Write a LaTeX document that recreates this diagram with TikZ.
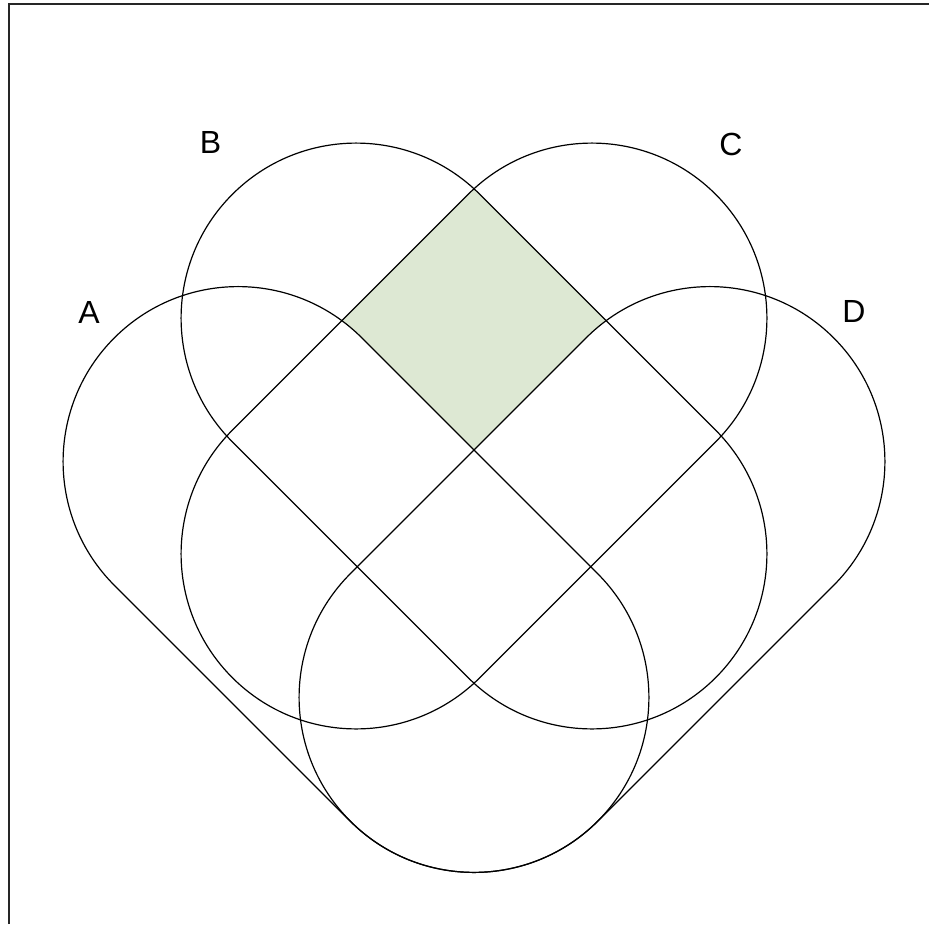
\documentclass[tikz,border=0pt]{standalone}
\usepackage{fontspec}
\setmainfont{Liberation Sans}
\definecolor{regiongreen}{RGB}{221,232,211}
\begin{document}
\begin{tikzpicture}[x=1pt,y=1pt,
  outline/.style={line width=1.2pt, black},
  lbl/.style={font=\fontsize{32}{38}\selectfont, inner sep=0pt},
  capA/.style={shift={(356,-579.5)},rotate=-45},
  capB/.style={shift={(474,-436)},rotate=-45},
  capC/.style={shift={(474,-436)},rotate=45},
  capD/.style={shift={(592,-579.5)},rotate=45}]
\def\cap{(-166.75,-175) -- (166.75,-175) arc[start angle=-90,end angle=90,radius=175] -- (-166.75,175) arc[start angle=90,end angle=270,radius=175] -- cycle}
\useasboundingbox (0,0) rectangle (929,-924);
\fill[white] (0,0) rectangle (929,-924);
% shaded region: B and C, outside A and D
\begin{scope}
  \clip[capB] \cap;
  \clip[capC] \cap;
  \fill[regiongreen] (0,0) rectangle (929,-924);
\end{scope}
\fill[white,capA] \cap;
\fill[white,capD] \cap;
% set outlines
\draw[outline,capA] \cap;
\draw[outline,capB] \cap;
\draw[outline,capC] \cap;
\draw[outline,capD] \cap;
% frame
\draw[line width=2pt, black!85] (9,-924) -- (9,-4) -- (929,-4);
% labels
\node[lbl] (labA) at (89,-312.5) {A};
\node[lbl] (labB) at (210.5,-142.5) {B};
\node[lbl] (labC) at (731,-144) {C};
\node[lbl] (labD) at (854,-311.5) {D};
\end{tikzpicture}
\end{document}
